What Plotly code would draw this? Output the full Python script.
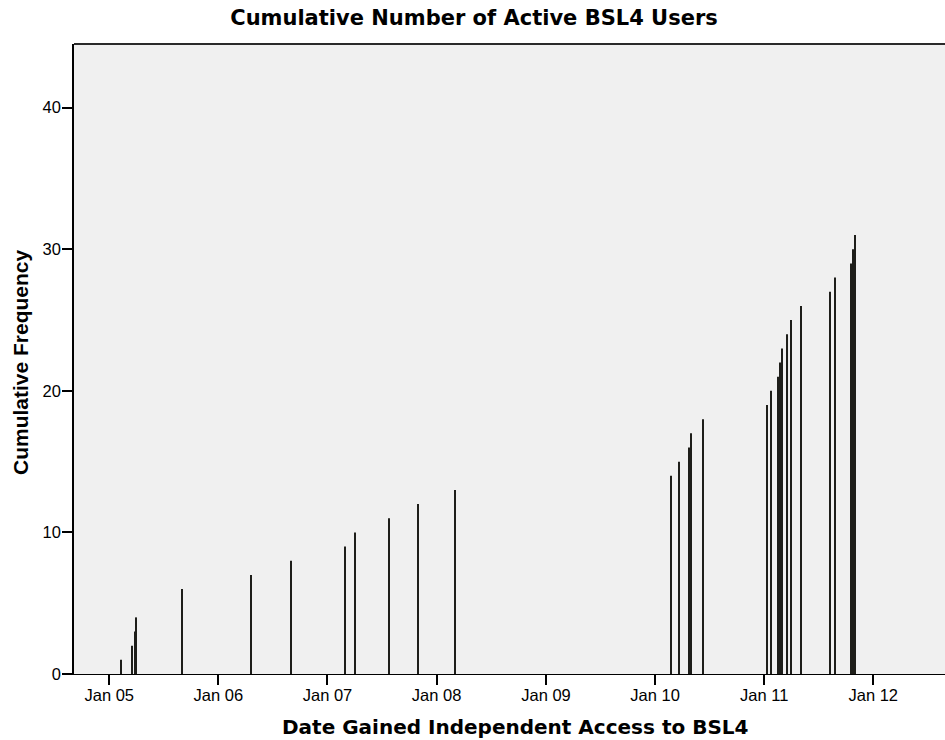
import plotly.graph_objects as go

# Date each user gained access, and cumulative count at that date
access_dates = [
    "2005-02-08", "2005-03-17", "2005-03-29", "2005-04-02", "2005-09-01",
    "2006-04-20", "2006-09-01", "2007-03-02", "2007-04-02", "2007-07-27",
    "2007-10-31", "2008-03-03", "2010-02-23", "2010-03-23", "2010-04-26",
    "2010-05-01", "2010-06-10", "2011-01-10", "2011-01-25", "2011-02-16",
    "2011-02-24", "2011-03-02", "2011-03-20", "2011-03-31", "2011-05-04",
    "2011-08-09", "2011-08-26", "2011-10-18", "2011-10-25", "2011-11-01",
]
cumulative_freq = [
    1, 2, 3, 4, 6,
    7, 8, 9, 10, 11,
    12, 13, 14, 15, 16,
    17, 18, 19, 20, 21,
    22, 23, 24, 25, 26,
    27, 28, 29, 30, 31,
]
y_ticks = [0, 10, 20, 30, 40]

DAY_MS = 86400000
bar_width = 3.6 * DAY_MS

fig = go.Figure(
    go.Bar(
        x=access_dates,
        y=cumulative_freq,
        width=[bar_width] * len(access_dates),
        marker=dict(color="#1e1e1a", line=dict(width=0)),
        showlegend=False,
    )
)

fig.update_layout(
    width=945,
    height=740,
    margin=dict(l=74, r=0, t=44, b=66),
    paper_bgcolor="white",
    plot_bgcolor="#f0f0f0",
    title=dict(
        text="<b>Cumulative Number of Active BSL4 Users</b>",
        font=dict(family="DejaVu Sans", size=21, color="black"),
        x=474 / 945, xanchor="center", xref="container",
        y=1 - 18 / 740, yanchor="middle", yref="container",
    ),
    xaxis=dict(
        type="date",
        range=["2004-09-05", "2012-08-28"],
        tick0="2005-01-01",
        dtick="M12",
        tickformat="%b %y",
        ticks="outside",
        ticklen=10,
        tickwidth=1.5,
        tickcolor="black",
        ticklabelstandoff=-4,
        tickfont=dict(family="Liberation Sans", size=16.5, color="black"),
        showline=True,
        linecolor="black",
        linewidth=1,
        showgrid=False,
        zeroline=False,
    ),
    yaxis=dict(
        range=[0, 44.5],
        tickvals=y_ticks,
        ticks="outside",
        ticklen=10,
        tickwidth=1.5,
        tickcolor="black",
        ticklabelstandoff=-2,
        tickfont=dict(family="Liberation Sans", size=16.5, color="black"),
        showline=True,
        linecolor="black",
        linewidth=1.5,
        showgrid=False,
        zeroline=False,
    ),
    shapes=[
        dict(type="line", xref="paper", yref="paper", x0=0, x1=1, y0=1, y1=1,
             line=dict(color="#2a2a2a", width=2)),
    ],
    annotations=[
        dict(
            text="<b>Date Gained Independent Access to BSL4</b>",
            xref="paper", yref="paper",
            x=(515 - 74) / 871, y=-(727 - 674) / 630,
            xanchor="center", yanchor="middle", showarrow=False,
            font=dict(family="DejaVu Sans", size=20, color="black"),
        ),
        dict(
            text="<b>Cumulative Frequency</b>",
            xref="paper", yref="paper",
            x=(20 - 74) / 871, y=(674 - 362) / 630,
            xanchor="center", yanchor="middle", showarrow=False,
            textangle=-90,
            font=dict(family="Liberation Sans", size=21, color="black"),
        ),
    ],
)

fig.write_html(
    "out.html",
    config={"displayModeBar": False},
    post_script="document.body.style.margin='0';document.body.style.overflow='hidden';",
)
